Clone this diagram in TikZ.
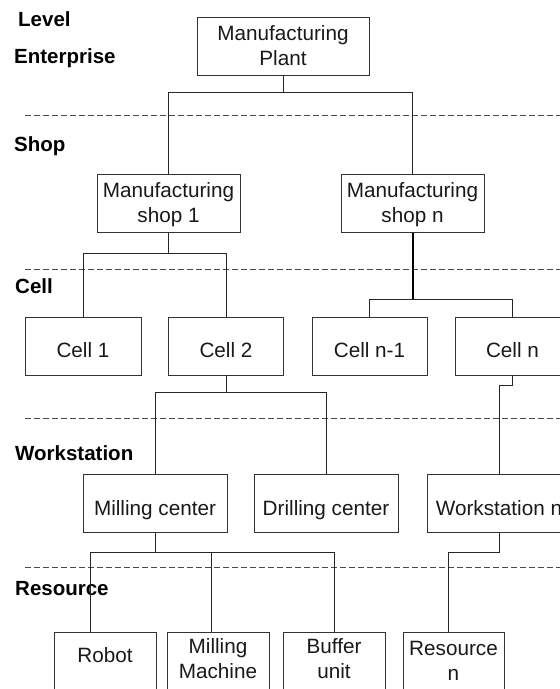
\documentclass[tikz,border=0pt]{standalone}
\usepackage{fontspec}
\setmainfont{Liberation Sans}
\begin{document}
\begin{tikzpicture}[x=1pt,y=-1pt,
  box/.style={draw=black!80, line width=0.9pt, inner sep=0pt, minimum height=58pt},
  txt/.style={font=\fontsize{20.7}{25}\selectfont, inner sep=0pt, anchor=base, text=black!90},
  lvl/.style={font=\fontsize{20.5}{25}\selectfont\bfseries, inner sep=0pt, anchor=base west},
  tier/.style={draw=black!70, line width=0.9pt, dash pattern=on 6pt off 3pt},
  link/.style={draw=black!85, line width=0.9pt},
  trunk/.style={draw=black, line width=2pt},
]
\useasboundingbox (0,0) rectangle (560,689);
\clip (0,0) rectangle (560,689);

% level names
\node[lvl] (lv-level) at (18,26) {Level};
\node[lvl] (lv-ent) at (14,63) {Enterprise};
\node[lvl] (lv-shop) at (14,151) {Shop};
\node[lvl] (lv-cell) at (15,293) {Cell};
\node[lvl] (lv-ws) at (15,460) {Workstation};
\node[lvl] (lv-res) at (15,595) {Resource};

% tier separators
\coordinate (s1a) at (25,115);  \coordinate (s1b) at (560,115);
\coordinate (s2a) at (25,269);  \coordinate (s2b) at (560,269);
\coordinate (s3a) at (25,418);  \coordinate (s3b) at (560,418);
\coordinate (s4a) at (25,567);  \coordinate (s4b) at (560,567);
\draw[tier] (s1a) -- (s1b);
\draw[tier] (s2a) -- (s2b);
\draw[tier] (s3a) -- (s3b);
\draw[tier] (s4a) -- (s4b);

% boxes
\node[box, minimum width=172pt] (plant)  at (283,46) {};
\node[box, minimum width=143pt] (shop1)  at (168.5,203.5) {};
\node[box, minimum width=143pt] (shopn)  at (412.5,203.5) {};
\node[box, minimum width=116pt] (cell1)  at (83,346) {};
\node[box, minimum width=115pt] (cell2)  at (226,346) {};
\node[box, minimum width=115pt] (celln1) at (369.5,346) {};
\node[box, minimum width=115pt] (celln)  at (512.5,346) {};
\node[box, minimum width=144pt] (mill)   at (155,503) {};
\node[box, minimum width=144pt] (drill)  at (326,503) {};
\node[box, minimum width=144pt] (wsn)    at (499,503) {};
\node[box, minimum width=102pt] (robot)  at (105,661) {};
\node[box, minimum width=102pt] (millm)  at (218,661) {};
\node[box, minimum width=102pt] (buffer) at (334,661) {};
\node[box, minimum width=101pt] (resn)   at (453.5,661) {};

% box texts
\node[txt] (plant-t)  at (283,40)    {\begin{tabular}[t]{@{}c@{}}Manufacturing\\Plant\end{tabular}};
\node[txt] (shop1-t)  at (168.5,197.5) {\begin{tabular}[t]{@{}c@{}}Manufacturing\\shop 1\end{tabular}};
\node[txt] (shopn-t)  at (412.5,197.5) {\begin{tabular}[t]{@{}c@{}}Manufacturing\\shop n\end{tabular}};
\node[txt] (cell1-t)  at (83,357)    {Cell 1};
\node[txt] (cell2-t)  at (226,357)   {Cell 2};
\node[txt] (celln1-t) at (369.5,357) {Cell n-1};
\node[txt] (celln-t)  at (512.5,357) {Cell n};
\node[txt] (mill-t)   at (155,515)   {Milling center};
\node[txt] (drill-t)  at (326,515)   {Drilling center};
\node[txt] (wsn-t)    at (499,515)   {Workstation n};
\node[txt] (robot-t)  at (105,662)   {Robot};
\node[txt] (millm-t)  at (218,653)   {\begin{tabular}[t]{@{}c@{}}Milling\\Machine\end{tabular}};
\node[txt] (buffer-t) at (334,653)   {\begin{tabular}[t]{@{}c@{}}Buffer\\unit\end{tabular}};
\node[txt] (resn-t)   at (453.5,655) {\begin{tabular}[t]{@{}c@{}}Resource\\n\end{tabular}};

% enterprise -> shops
\draw[link] (plant.south) -- ++(0,17) coordinate (jp);
\draw[link] (shop1.north) |- (jp) -| (shopn.north);

% shop 1 -> cells
\draw[link] (shop1.south) -- ++(0,20) coordinate (js1);
\draw[link] (cell1.north) |- (js1) -| (cell2.north);

% shop n -> cells
\draw[trunk] (shopn.south) -- ++(0,66) coordinate (jsn);
\draw[link] (celln1.north) |- (jsn) -| (celln.north);

% cell 2 -> workstations
\draw[link] (cell2.south) -- ++(0,17) coordinate (jc2);
\draw[link] (mill.north) |- (jc2) -| (drill.north);

% cell n -> workstation n
\draw[link] (celln.south) -- ++(0,10) -| (wsn.north);

% milling center -> resources
\draw[link] (mill.south) -- ++(0,20) coordinate (jm);
\draw[link] ([xshift=-15pt]robot.north) |- (jm) -| (buffer.north);
\draw[link] ([xshift=-7pt]millm.north) -- ([xshift=-7pt]millm.north |- jm);

% workstation n -> resource n
\draw[link] (wsn.south) -- ++(0,20) -| ([xshift=-5.5pt]resn.north);
\end{tikzpicture}
\end{document}
